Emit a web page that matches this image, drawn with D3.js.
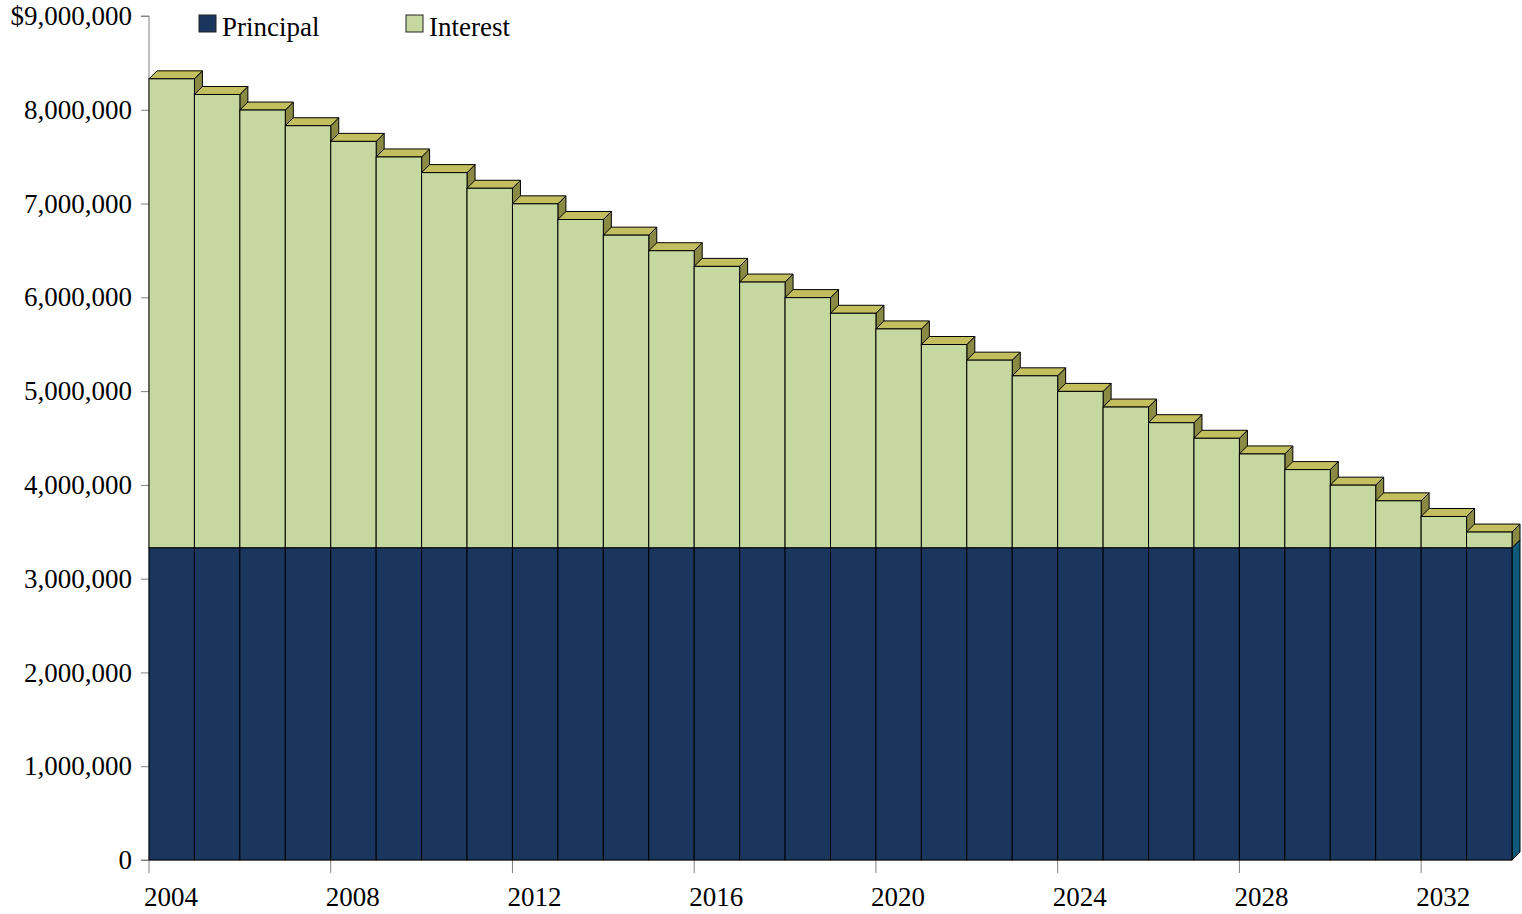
<!DOCTYPE html>
<html>
<head>
<meta charset="utf-8">
<script src="https://cdn.jsdelivr.net/npm/d3@7"></script>
<style>
  body { margin: 0; background: #fff; }
  text { font-family: "Liberation Serif", "Times New Roman", serif; }
</style>
</head>
<body>
<svg width="1522" height="914"></svg>
<script>
var years = [2004, 2005, 2006, 2007, 2008, 2009, 2010, 2011, 2012, 2013,
             2014, 2015, 2016, 2017, 2018, 2019, 2020, 2021, 2022, 2023,
             2024, 2025, 2026, 2027, 2028, 2029, 2030, 2031, 2032, 2033];
var principal = [3330000, 3330000, 3330000, 3330000, 3330000, 3330000, 3330000, 3330000, 3330000, 3330000,
                 3330000, 3330000, 3330000, 3330000, 3330000, 3330000, 3330000, 3330000, 3330000, 3330000,
                 3330000, 3330000, 3330000, 3330000, 3330000, 3330000, 3330000, 3330000, 3330000, 3330000];
var interest = [5000000, 4833000, 4667000, 4500000, 4333000, 4167000, 4000000, 3833000, 3667000, 3500000,
                3333000, 3167000, 3000000, 2833000, 2667000, 2500000, 2333000, 2167000, 2000000, 1833000,
                1667000, 1500000, 1333000, 1167000, 1000000, 833000, 667000, 500000, 333000, 167000];
var tickYears = [2004, 2008, 2012, 2016, 2020, 2024, 2028, 2032];
var yTicks = [0, 1000000, 2000000, 3000000, 4000000, 5000000, 6000000, 7000000, 8000000, 9000000];

var svg = d3.select('svg');
var plotLeft = 149, plotRight = 1512, plotTop = 16, plotBottom = 860;
var dx = 8, dy = 8;
var fontSize = 27;

var x = d3.scaleBand().domain(years).range([plotLeft, plotRight]).padding(0);
var y = d3.scaleLinear().domain([0, 9000000]).range([plotBottom, plotTop]);

var cPrin = '#1a365e', cPrinSide = '#0e5878';
var cInt = '#c5d8a0', cTop = '#c4bf5e', cSide = '#8a8a45';

// y axis
var yAxis = d3.axisLeft(y)
    .tickValues(yTicks)
    .tickSize(8)
    .tickPadding(9)
    .tickFormat(function(d) {
        var s = d3.format(',')(d);
        return d === 9000000 ? '$' + s : s;
    });
var gy = svg.append('g').attr('transform', 'translate(' + plotLeft + ',0)').call(yAxis);
gy.select('.domain').attr('stroke', '#808080').attr('d', 'M-8,' + plotTop + 'H0V' + plotBottom + 'H-8');
gy.selectAll('.tick line').attr('stroke', '#808080');
gy.selectAll('.tick text').attr('font-size', fontSize).attr('fill', '#000')
    .attr('font-family', '"Liberation Serif", serif');

// x axis ticks at band start
var gx = svg.append('g').attr('transform', 'translate(0,' + plotBottom + ')');
var xt = gx.selectAll('.xtick').data(tickYears).enter().append('g')
    .attr('class', 'xtick')
    .attr('transform', function(d) { return 'translate(' + x(d) + ',0)'; });
xt.append('line').attr('y1', 0).attr('y2', 13).attr('stroke', '#808080');
xt.append('text').attr('x', -5).attr('y', 46).attr('font-size', fontSize).text(function(d) { return d; });
gx.append('line').attr('x1', plotLeft).attr('x2', plotRight).attr('stroke', '#808080');

// bars, drawn left to right so each one hides the side of the previous
var bw = x.bandwidth();
var bars = svg.selectAll('.bar').data(years).enter().append('g').attr('class', 'bar');

bars.each(function(d, i) {
    var g = d3.select(this);
    var x0 = x(d), x1 = x(d) + bw;
    var yP = y(principal[i]);
    var yT = y(principal[i] + interest[i]);

    // principal side (visible only where nothing covers it)
    g.append('path')
        .attr('d', 'M' + x1 + ',' + plotBottom + 'L' + (x1 + dx) + ',' + (plotBottom - dy) +
              'L' + (x1 + dx) + ',' + (yP - dy) + 'L' + x1 + ',' + yP + 'Z')
        .attr('fill', cPrinSide).attr('stroke', '#000').attr('stroke-width', 1);
    // interest side
    g.append('path')
        .attr('d', 'M' + x1 + ',' + yP + 'L' + (x1 + dx) + ',' + (yP - dy) +
              'L' + (x1 + dx) + ',' + (yT - dy) + 'L' + x1 + ',' + yT + 'Z')
        .attr('fill', cSide).attr('stroke', '#000').attr('stroke-width', 1);
    // top face
    g.append('path')
        .attr('d', 'M' + x0 + ',' + yT + 'L' + (x0 + dx) + ',' + (yT - dy) +
              'L' + (x1 + dx) + ',' + (yT - dy) + 'L' + x1 + ',' + yT + 'Z')
        .attr('fill', cTop).attr('stroke', '#000').attr('stroke-width', 1);
    // fronts
    g.append('rect').attr('x', x0).attr('y', yP).attr('width', bw).attr('height', plotBottom - yP)
        .attr('fill', cPrin).attr('stroke', '#000').attr('stroke-width', 1);
    g.append('rect').attr('x', x0).attr('y', yT).attr('width', bw).attr('height', yP - yT)
        .attr('fill', cInt).attr('stroke', '#000').attr('stroke-width', 1);
});

// legend
var legend = svg.selectAll('.legend').data(['Principal', 'Interest']).enter().append('g')
    .attr('class', 'legend')
    .attr('transform', function(d, i) { return 'translate(' + (199 + i * 207) + ',15)'; });
legend.append('rect').attr('width', 17).attr('height', 17)
    .attr('fill', function(d, i) { return i === 0 ? cPrin : cInt; })
    .attr('stroke', '#222').attr('stroke-width', 1);
legend.append('text').attr('x', 23).attr('y', 21).attr('font-size', fontSize)
    .text(function(d) { return d; });
</script>
</body>
</html>
